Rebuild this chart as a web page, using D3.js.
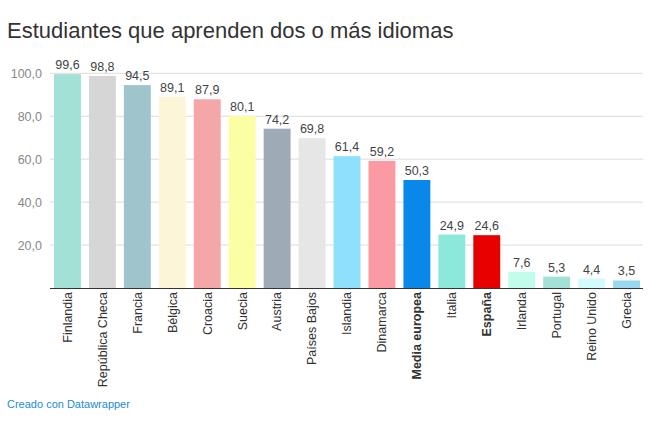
<!DOCTYPE html>
<html>
<head>
<meta charset="utf-8">
<script src="https://cdn.jsdelivr.net/npm/d3@7"></script>
<style>
  html, body { margin: 0; padding: 0; background: #fff; }
  svg { display: block; font-family: "Liberation Sans", "Helvetica Neue", Arial, sans-serif; }
</style>
</head>
<body>
<script>
const categories = ["Finlandia","República Checa","Francia","Bélgica","Croacia","Suecia","Austria","Países Bajos","Islandia","Dinamarca","Media europea","Italia","España","Irlanda","Portugal","Reino Unido","Grecia"];
const values = [99.6,98.8,94.5,89.1,87.9,80.1,74.2,69.8,61.4,59.2,50.3,24.9,24.6,7.6,5.3,4.4,3.5];
const colors = ["#a3e0d6","#d6d6d6","#a0c4cc","#fdf5d8","#f5a6a7","#fbfea3","#9eabb7","#e6e6e6","#8fe0fc","#fb9aa3","#0a88ea","#8de8dc","#e60000","#c1fdea","#a3e0d6","#d2fbfd","#99d9ef"];
const boldCats = ["Media europea","España"];
const yTicks = [20,40,60,80,100];
const title = "Estudiantes que aprenden dos o más idiomas";
const credit = "Creado con Datawrapper";

const W = 656, H = 429;
const fmt = v => d3.format(".1f")(v).replace(".", ",");

const svg = d3.select("body").append("svg").attr("width", W).attr("height", H);

svg.append("text").attr("x", 7).attr("y", 38)
  .attr("font-size", 22).attr("fill", "#333")
  .text(title);

const x = d3.scaleBand().domain(categories).range([50, 644]).paddingInner(0.23).paddingOuter(0.115);
const y = d3.scaleLinear().domain([0, 100]).range([288, 73.3]);

// gridlines
const grid = svg.append("g");
grid.selectAll("line").data(yTicks).join("line")
  .attr("x1", 50).attr("x2", 643)
  .attr("y1", d => y(d)).attr("y2", d => y(d))
  .attr("stroke", "#dcdcdc").attr("stroke-width", 1);

// y axis labels
const yAxis = d3.axisLeft(y).tickValues(yTicks).tickSize(0).tickPadding(0).tickFormat(fmt);
const ya = svg.append("g").attr("transform", "translate(42,0)").call(yAxis);
ya.select(".domain").remove();
ya.selectAll("text").attr("font-size", 12.5).attr("fill", "#888").attr("font-family", null);

// bars
svg.append("g").selectAll("rect").data(categories).join("rect")
  .attr("x", d => x(d)).attr("width", x.bandwidth())
  .attr("y", (d, i) => y(values[i])).attr("height", (d, i) => y(0) - y(values[i]))
  .attr("fill", (d, i) => colors[i]);

// value labels
svg.append("g").selectAll("text").data(categories).join("text")
  .attr("x", d => x(d) + x.bandwidth() / 2)
  .attr("y", (d, i) => y(values[i]) - 5)
  .attr("text-anchor", "middle").attr("font-size", 12.5).attr("fill", "#444")
  .text((d, i) => fmt(values[i]));

// baseline
svg.append("line").attr("x1", 50).attr("x2", 643).attr("y1", 288.5).attr("y2", 288.5)
  .attr("stroke", "#333").attr("stroke-width", 1.2);

// x axis labels
const xAxis = d3.axisBottom(x).tickSize(0).tickPadding(0);
const xa = svg.append("g").attr("transform", "translate(0,288)").call(xAxis);
xa.select(".domain").remove();
xa.selectAll("text")
  .attr("font-size", 12.5).attr("fill", "#333").attr("font-family", null)
  .attr("font-weight", d => boldCats.includes(d) ? "bold" : "normal")
  .attr("text-anchor", "end").attr("dy", "0.35em")
  .attr("transform", "translate(0,4) rotate(-90)")
  .attr("x", 0).attr("y", 0);

svg.append("text").attr("x", 7).attr("y", 408)
  .attr("font-size", 11).attr("fill", "#1d8bd6").text(credit);
</script>
</body>
</html>
